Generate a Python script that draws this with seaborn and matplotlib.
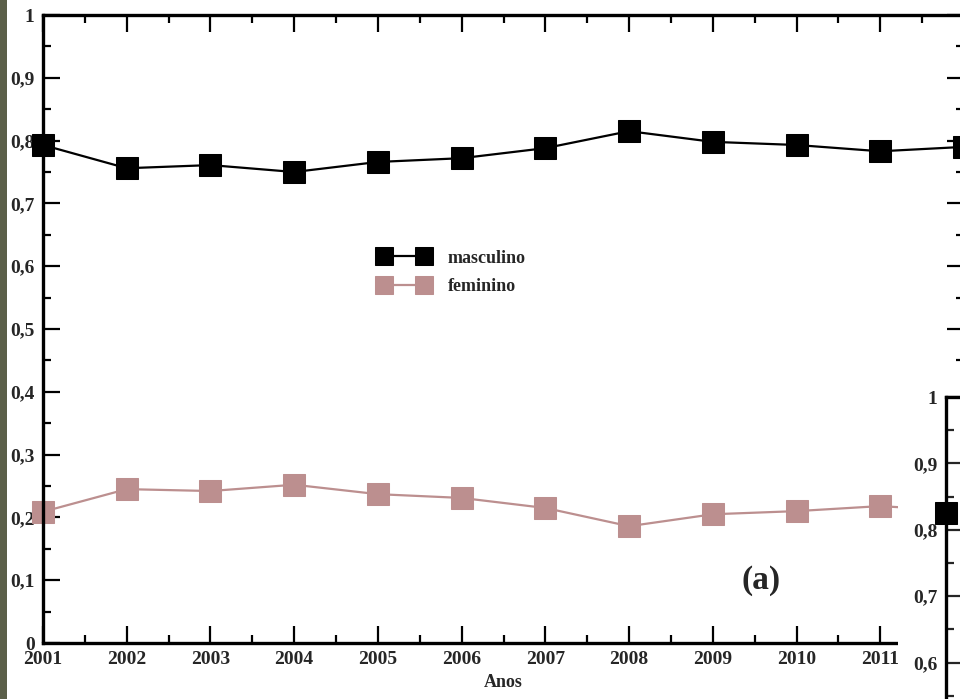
import matplotlib
matplotlib.use('Agg')

import numpy as np
import pandas as pd
import matplotlib.pyplot as plt
import seaborn as sns
from matplotlib.patches import Rectangle

# ----------------------------------------------------------------------
# dados
# ----------------------------------------------------------------------
anos = [2001, 2002, 2003, 2004, 2005, 2006, 2007, 2008, 2009, 2010, 2011, 2012]
masculino = [0.793, 0.756, 0.761, 0.750, 0.766, 0.772, 0.788, 0.815, 0.798, 0.793, 0.783, 0.790]
feminino = [0.209, 0.245, 0.242, 0.252, 0.237, 0.231, 0.215, 0.186, 0.205, 0.210, 0.218, 0.210]

ytick_vals = [0, 0.1, 0.2, 0.3, 0.4, 0.5, 0.6, 0.7, 0.8, 0.9, 1.0]
ytick_labels = ['0', '0,1', '0,2', '0,3', '0,4', '0,5', '0,6', '0,7', '0,8', '0,9', '1']

# painel (b), só a parte visível
inset_anos = [2001]
inset_vals = [0.826]
inset_ticks = [0.5, 0.6, 0.7, 0.8, 0.9, 1.0]
inset_labels = ['0,5', '0,6', '0,7', '0,8', '0,9', '1']

df = pd.DataFrame({'Anos': anos, 'masculino': masculino, 'feminino': feminino})

sns.set_style('ticks')
plt.rcParams['font.family'] = ['Liberation Serif', 'DejaVu Serif']
plt.rcParams['font.weight'] = 'bold'

W, H = 960, 699
fig = plt.figure(figsize=(9.6, 6.99), dpi=100)
fig.patch.set_facecolor('white')

# ----------------------------------------------------------------------
# painel (a)
# ----------------------------------------------------------------------
ax = fig.add_axes([43 / W, 56 / H, 921 / W, 628 / H])
ax.set_facecolor('white')

cores = {'masculino': 'black', 'feminino': '#bc8f8f'}
for serie in ['masculino', 'feminino']:
    sns.lineplot(
        data=df, x='Anos', y=serie, ax=ax,
        color=cores[serie], marker='s', markersize=16,
        markeredgecolor=cores[serie], linewidth=1.6,
        label=serie, clip_on=False
    )

ax.set_xlim(2001, 2012)
ax.set_ylim(0, 1)
ax.set_xticks(anos)
ax.set_xticklabels([str(a) for a in anos])
ax.set_xticks(np.array(anos[:-1]) + 0.5, minor=True)
ax.set_yticks(ytick_vals)
ax.set_yticklabels(ytick_labels)
ax.set_yticks(np.arange(0.05, 1.0, 0.1), minor=True)

ax.tick_params(which='both', direction='in', top=True, right=True,
               width=1.6, color='black', labelsize=14, pad=6)
ax.tick_params(which='major', length=12)
ax.tick_params(which='minor', length=6)
for s in ax.spines.values():
    s.set_linewidth(2.4)
    s.set_color('black')

ax.set_xlabel('Anos', fontsize=13, fontweight='bold', labelpad=4)
ax.set_ylabel('')

leg = ax.legend(
    loc='upper left', bbox_to_anchor=(0.347, 0.652),
    frameon=False, fontsize=13, numpoints=2, handlelength=2.8,
    handletextpad=1.0, labelspacing=0.62, markerscale=0.85
)
for t in leg.get_texts():
    t.set_fontweight('bold')

ax.text(0.78, 0.10, '(a)', transform=ax.transAxes, fontsize=24,
        fontweight='bold', ha='center', va='center')

# ----------------------------------------------------------------------
# fundo branco e painel (b) no canto
# ----------------------------------------------------------------------
fig.add_artist(Rectangle((898 / W, 0), 62 / W, (H - 385) / H,
                         transform=fig.transFigure, facecolor='white',
                         edgecolor='none', zorder=2))

ax2 = fig.add_axes([946 / W, -30 / H, 120 / W, 332 / H], zorder=3)
ax2.set_facecolor('white')
sns.lineplot(x=inset_anos, y=inset_vals, ax=ax2, color='black', marker='s',
             markersize=16, markeredgecolor='black', linewidth=1.6, clip_on=False)
ax2.set_xlim(2001, 2012)
ax2.set_ylim(0.5, 1)
ax2.set_yticks(inset_ticks)
ax2.set_yticklabels(inset_labels)
ax2.set_yticks(np.arange(0.55, 1.0, 0.1), minor=True)
ax2.set_xticks([])
ax2.tick_params(which='both', direction='in', width=1.6, labelsize=14, pad=6)
ax2.tick_params(which='major', length=12)
ax2.tick_params(which='minor', length=6)
for s in ax2.spines.values():
    s.set_linewidth(2.4)
    s.set_color('black')

# faixa escura da borda esquerda
fig.add_artist(Rectangle((0, 0), 7 / W, 1, transform=fig.transFigure,
                         facecolor='#5b5f49', edgecolor='none', zorder=10))

fig.savefig('out.png', dpi=100)
